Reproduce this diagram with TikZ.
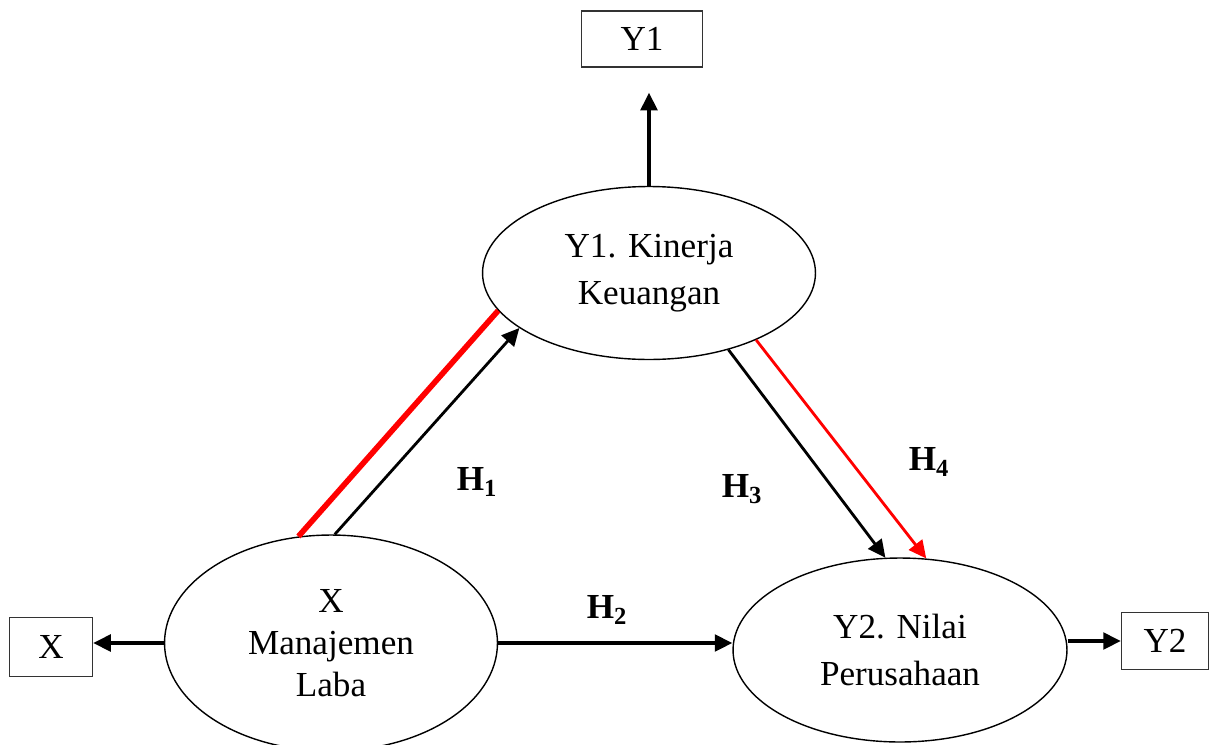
\documentclass[tikz,border=0pt]{standalone}
\usepackage{fontspec}
\setmainfont{Liberation Serif}
\usetikzlibrary{shapes.geometric,arrows.meta}
\begin{document}
\begin{tikzpicture}[x=0.02cm,y=-0.02cm,
  font=\fontsize{20}{26.5}\selectfont,
  ell/.style={draw,ellipse,line width=0.8pt,inner sep=0pt,align=center},
  box/.style={draw,rectangle,line width=0.8pt,draw=black!80,inner sep=0pt},
  arr/.style={line width=1.8pt,-{Triangle[length=10pt,width=9.5pt]}},
  hlab/.style={font=\fontsize{20}{24}\selectfont\bfseries}]
\useasboundingbox (0,0) rectangle (1210,744);

\coordinate (X) at (331,643);
\coordinate (Y1) at (649,273);
\coordinate (Y2) at (900,650);
\coordinate (xb) at (51,647);
\coordinate (yb1) at (642,39);
\coordinate (yb2) at (1165,641);

\node[ell,minimum width=6.66cm,minimum height=4.32cm,font=\fontsize{20}{24}\selectfont] (X) at (X){X\\Manajemen\\Laba};
\node[ell,minimum width=6.66cm,minimum height=3.46cm] (Y1) at (Y1){Y1. Kinerja\\Keuangan};
\node[ell,minimum width=6.68cm,minimum height=3.68cm] (Y2) at (Y2){Y2. Nilai\\Perusahaan};
\node[box,minimum width=1.66cm,minimum height=1.18cm] (xb) at (xb){X};
\node[box,minimum width=2.42cm,minimum height=1.12cm] (yb1) at (yb1){Y1};
\node[box,minimum width=1.74cm,minimum height=1.14cm] (yb2) at (yb2){Y2};

\node[hlab] (h1) at (477,482){H\textsubscript{1}};
\node[hlab] (h2) at (607,610){H\textsubscript{2}};
\node[hlab] (h3) at (742,489){H\textsubscript{3}};
\node[hlab] (h4) at (929,462){H\textsubscript{4}};

\draw[arr] (X.west) -- (X.west -| xb.east);
\draw[arr] (Y2.east |- yb2.west) -- (yb2.west);
\draw[arr,shorten >=0.5cm] (Y1.north) -- (Y1.north |- yb1.south);
\draw[arr] (X.east) -- (X.east -| Y2.west);

\draw[red,line width=3.2pt] (X.107) -- (Y1.194.5);
\draw[arr,line width=1.6pt] (X.88) -- (Y1.203);
\draw[arr,line width=1.6pt] (Y1.-44) -- (Y2.99.5);
\draw[arr,red,line width=1.6pt] (Y1.-32) -- (Y2.74.5);

\end{tikzpicture}
\end{document}
